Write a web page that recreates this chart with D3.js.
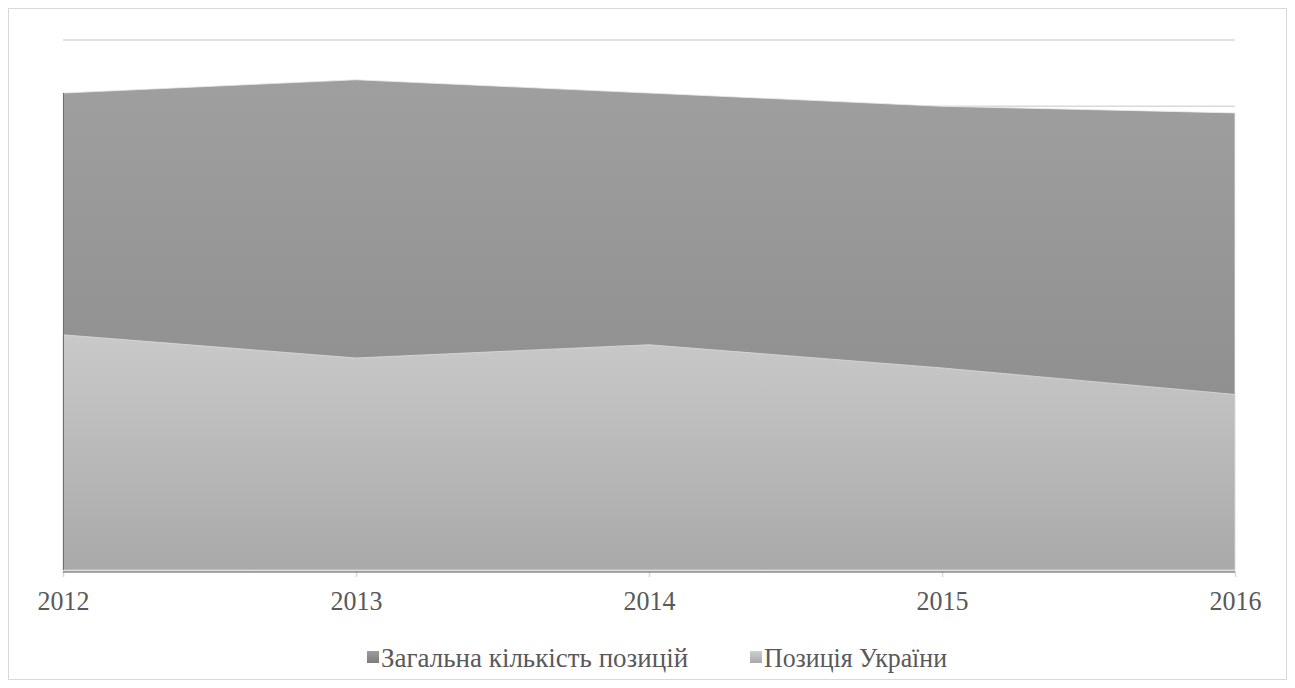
<!DOCTYPE html>
<html>
<head>
<meta charset="utf-8">
<script src="https://cdn.jsdelivr.net/npm/d3@7"></script>
<style>
  html, body { margin: 0; padding: 0; background: #fff; }
  svg { display: block; }
</style>
</head>
<body>
<svg id="chart" width="1295" height="688"></svg>
<script>
// Years on the horizontal axis
const years = ["2012", "2013", "2014", "2015", "2016"];
// Total number of ranked positions
const totalPositions = [144, 148, 144, 140, 138];
// Ukraine's series
const ukrainePositions = [71, 64, 68, 61, 53];
// Value axis gridlines
const gridValues = [20, 40, 60, 80, 100, 120, 140, 160];
const seriesNames = ["Загальна кількість позицій", "Позиція України"];

const svg = d3.select("#chart");
const W = 1295, H = 688;
const margin = { left: 63, right: 60, top: 40, bottom: 118 };
const FONT = "'Liberation Serif', 'Times New Roman', serif";

// outer frame
svg.append("rect")
  .attr("x", 8.5).attr("y", 8.5)
  .attr("width", W - 17).attr("height", H - 17)
  .attr("fill", "#fff").attr("stroke", "#d9d9d9").attr("stroke-width", 1);

const x = d3.scalePoint().domain(years).range([margin.left, W - margin.right]);
const y = d3.scaleLinear().domain([0, 160]).range([H - margin.bottom, margin.top]);

const defs = svg.append("defs");
function grad(id, top, bottom, y1, y2) {
  const g = defs.append("linearGradient").attr("id", id)
    .attr("gradientUnits", "userSpaceOnUse")
    .attr("x1", 0).attr("x2", 0).attr("y1", y1).attr("y2", y2);
  g.append("stop").attr("offset", "0%").attr("stop-color", top);
  g.append("stop").attr("offset", "100%").attr("stop-color", bottom);
}
grad("gTotal", "#9f9f9f", "#878787", y(d3.max(totalPositions)), y(0));
grad("gUkr", "#c9c9c9", "#a9a9a9", y(d3.max(ukrainePositions)), y(0));
const lg1 = defs.append("linearGradient").attr("id", "lTotal").attr("x1", 0).attr("x2", 0).attr("y1", 0).attr("y2", 1);
lg1.append("stop").attr("offset", "0%").attr("stop-color", "#9c9c9c");
lg1.append("stop").attr("offset", "100%").attr("stop-color", "#7d7d7d");
const lg2 = defs.append("linearGradient").attr("id", "lUkr").attr("x1", 0).attr("x2", 0).attr("y1", 0).attr("y2", 1);
lg2.append("stop").attr("offset", "0%").attr("stop-color", "#cfcfcf");
lg2.append("stop").attr("offset", "100%").attr("stop-color", "#a8a8a8");

// gridlines
svg.append("g").selectAll("line").data(gridValues).join("line")
  .attr("x1", margin.left).attr("x2", W - margin.right)
  .attr("y1", d => y(d)).attr("y2", d => y(d))
  .attr("stroke", "#d9d9d9").attr("stroke-width", 1.5);

const area = d3.area()
  .x((d, i) => x(years[i]))
  .y0(y(0))
  .y1(d => y(d));

svg.append("path").datum(totalPositions)
  .attr("d", area)
  .attr("fill", "url(#gTotal)")
  .attr("stroke", "#ececec").attr("stroke-width", 1).attr("stroke-opacity", 0.8);

svg.append("path").datum(ukrainePositions)
  .attr("d", area)
  .attr("fill", "url(#gUkr)")
  .attr("stroke", "#dcdcdc").attr("stroke-width", 1).attr("stroke-opacity", 0.8);

// left edge shading of the areas
svg.append("line")
  .attr("x1", x(years[0]) + 0.5).attr("x2", x(years[0]) + 0.5)
  .attr("y1", y(totalPositions[0])).attr("y2", y(0))
  .attr("stroke", "#6f6f6f").attr("stroke-width", 1);

// category axis
const axis = d3.axisBottom(x).tickSize(6).tickPadding(14);
const gx = svg.append("g").attr("transform", `translate(0,${y(0) + 1})`).call(axis)
  .attr("font-family", null).attr("font-size", null);
gx.select(".domain").attr("stroke", "#d9d9d9").attr("stroke-width", 1.5)
  .attr("d", `M${margin.left},0H${W - margin.right}`);
svg.append("line")
  .attr("x1", margin.left).attr("x2", W - margin.right)
  .attr("y1", y(0) + 2).attr("y2", y(0) + 2)
  .attr("stroke", "#595959").attr("stroke-width", 1);
gx.selectAll(".tick line").attr("stroke", "#d9d9d9").attr("stroke-width", 1.5);
gx.selectAll(".tick text")
  .style("font-family", FONT)
  .style("font-size", "27px")
  .attr("textLength", 52).attr("lengthAdjust", "spacingAndGlyphs")
  .attr("fill", "#595959");

// legend
const legend = svg.append("g");
const items = [
  { name: seriesNames[0], fill: "url(#lTotal)", x: 367, len: null },
  { name: seriesNames[1], fill: "url(#lUkr)", x: 750, len: 183 }
];
items.forEach(it => {
  legend.append("rect").attr("x", it.x).attr("y", 651).attr("width", 12).attr("height", 12)
    .attr("fill", it.fill);
  const t = legend.append("text").attr("x", it.x + 14).attr("y", 667)
    .style("font-family", FONT).style("font-size", "27px")
    .attr("fill", "#595959")
    .text(it.name);
  if (it.len) t.attr("textLength", it.len).attr("lengthAdjust", "spacingAndGlyphs");
});
</script>
</body>
</html>
